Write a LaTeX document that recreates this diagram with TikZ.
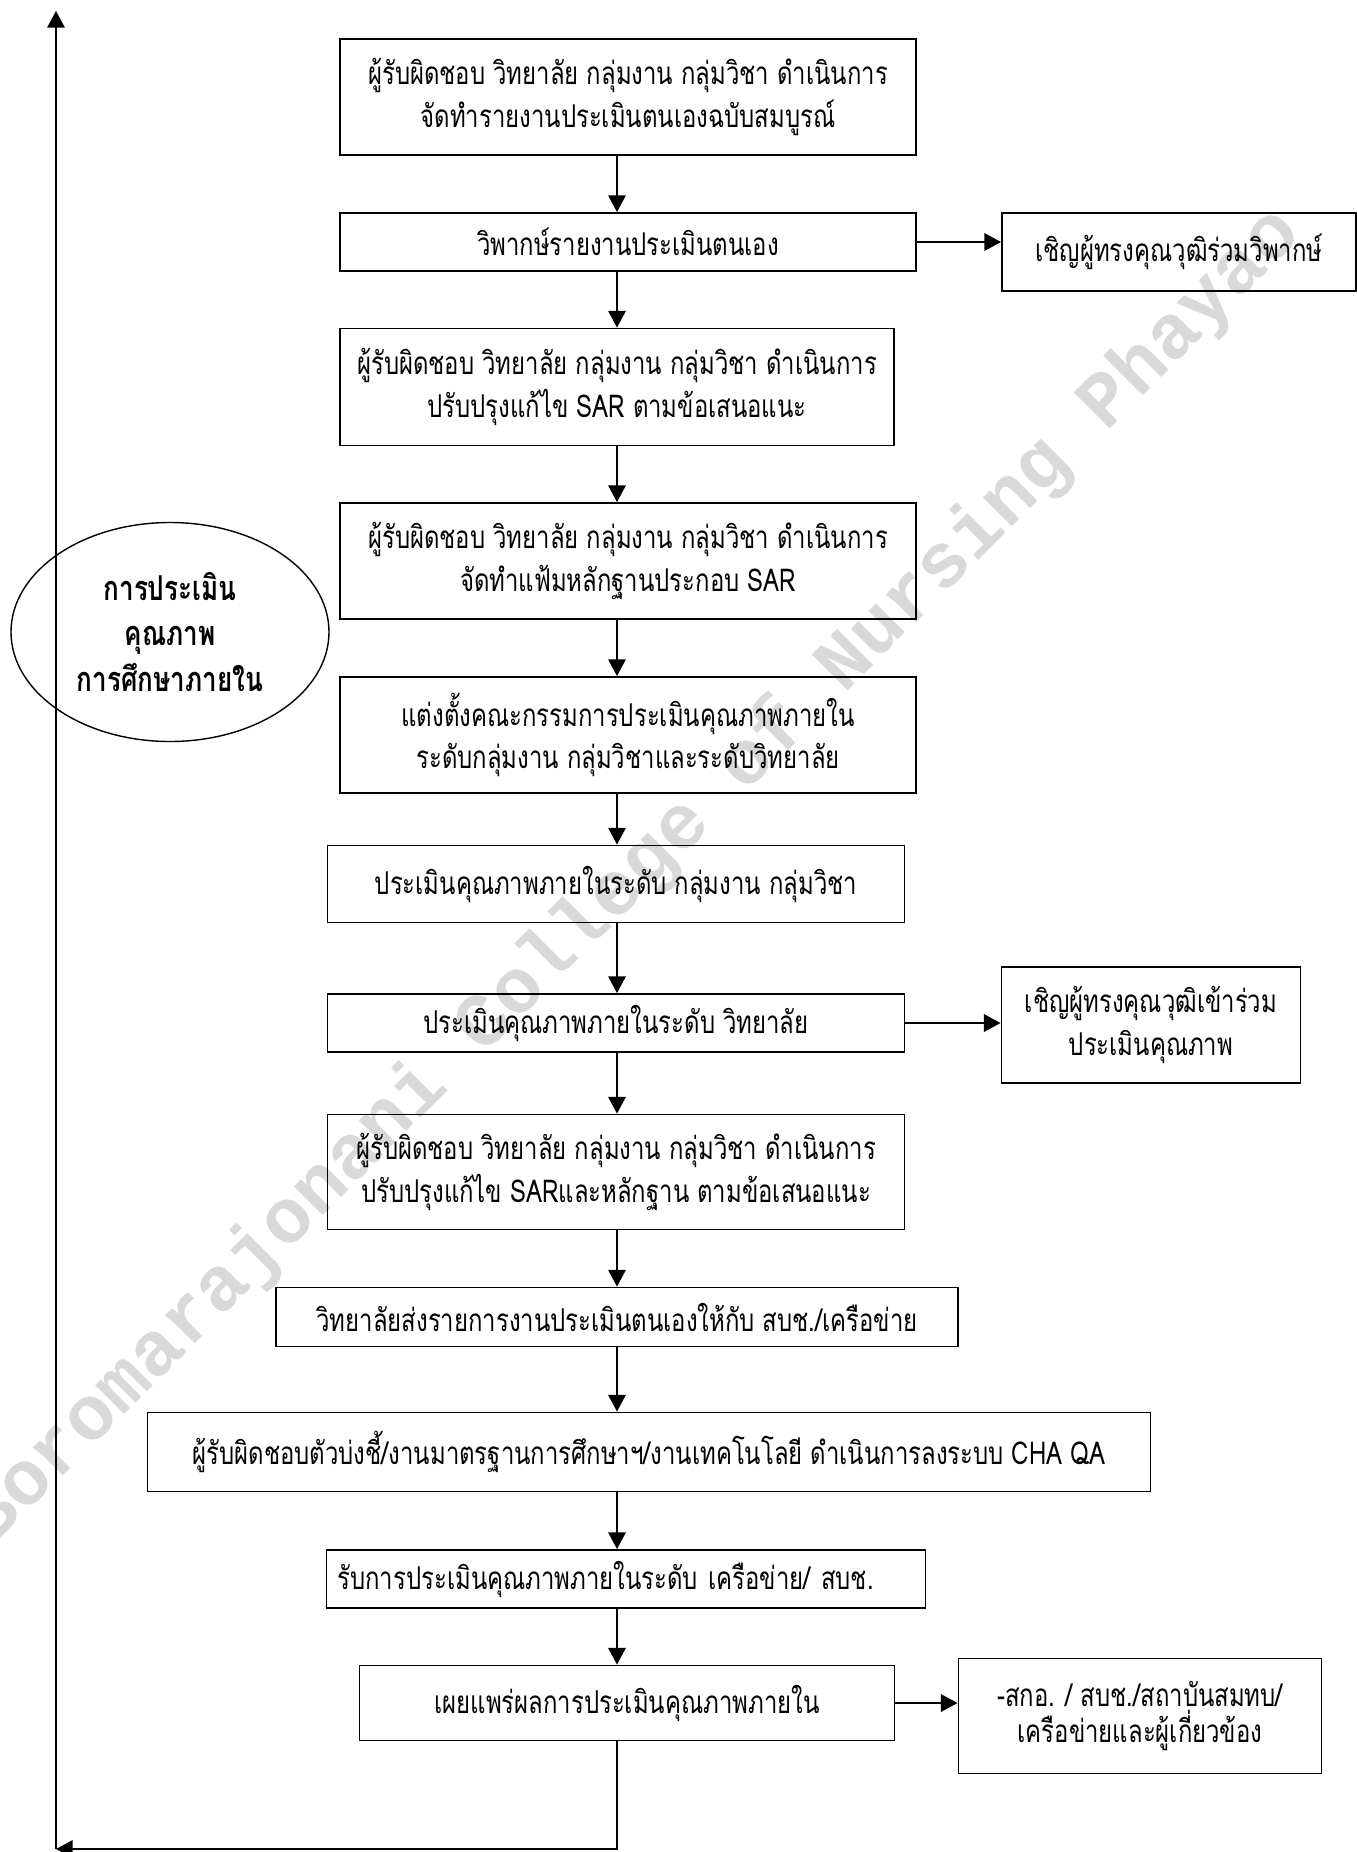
\documentclass[tikz,border=0pt]{standalone}
\usepackage{fontspec}
\newfontfamily\thaifont[Script=Thai, FakeStretch=0.76]{Loma}
\newfontfamily\markfont{Liberation Mono}
\usepackage{tikz}
\usetikzlibrary{arrows.meta, shapes.geometric}
\newlength\px
\setlength\px{0.2mm}
\tikzstyle{box}=[draw, line width=1.1pt, inner sep=0pt, align=center, font=\thaifont\fontsize{17.9}{24}\selectfont]
\tikzstyle{arr}=[->, line width=0.8pt]
\tikzset{>={Triangle[length=9.5pt, width=10pt]}}

\begin{document}
\begin{tikzpicture}[x=0.2mm, y=-0.2mm]
\useasboundingbox (0,0) rectangle (1357,1852);
\node[text=black!15, font=\markfont\bfseries\fontsize{44}{44}\selectfont, rotate=45] (wm) at (633,877) {Boromarajonani College of Nursing Phayao};

\node[box, minimum width=576\px, minimum height=116\px] (B1) at (628,97) {ผู้รับผิดชอบ วิทยาลัย กลุ่มงาน กลุ่มวิชา ดำเนินการ\\จัดทำรายงานประเมินตนเองฉบับสมบูรณ์};
\node[box, minimum width=576\px, minimum height=58\px] (B2) at (628,242) {วิพากษ์รายงานประเมินตนเอง};
\node[box, minimum width=354\px, minimum height=78\px] (S1) at (1179,252) {เชิญผู้ทรงคุณวุฒิร่วมวิพากษ์};
\node[box, minimum width=554\px, minimum height=117\px] (B3) at (617,387) {ผู้รับผิดชอบ วิทยาลัย กลุ่มงาน กลุ่มวิชา ดำเนินการ\\ปรับปรุงแก้ไข SAR ตามข้อเสนอแนะ};
\node[box, minimum width=576\px, minimum height=116\px] (B4) at (628,561) {ผู้รับผิดชอบ วิทยาลัย กลุ่มงาน กลุ่มวิชา ดำเนินการ\\จัดทำแฟ้มหลักฐานประกอบ SAR};
\node[draw, ellipse, line width=0.8pt, inner sep=0pt, minimum width=318\px, minimum height=219\px, align=center, font=\thaifont\bfseries\fontsize{19.5}{26}\selectfont] (E) at (170,632) {การประเมิน\\คุณภาพ\\การศึกษาภายใน};
\node[box, minimum width=576\px, minimum height=116\px] (B5) at (628,735) {แต่งตั้งคณะกรรมการประเมินคุณภาพภายใน\\ระดับกลุ่มงาน กลุ่มวิชาและระดับวิทยาลัย};
\node[box, minimum width=577\px, minimum height=77\px] (B6) at (616,884) {ประเมินคุณภาพภายในระดับ กลุ่มงาน กลุ่มวิชา};
\node[box, minimum width=577\px, minimum height=58\px] (B7) at (616,1023) {ประเมินคุณภาพภายในระดับ วิทยาลัย};
\node[box, minimum width=299\px, minimum height=116\px] (S2) at (1151,1025) {เชิญผู้ทรงคุณวุฒิเข้าร่วม\\ประเมินคุณภาพ};
\node[box, minimum width=577\px, minimum height=115\px] (B8) at (616,1172) {ผู้รับผิดชอบ วิทยาลัย กลุ่มงาน กลุ่มวิชา ดำเนินการ\\ปรับปรุงแก้ไข SARและหลักฐาน ตามข้อเสนอแนะ};
\node[box, minimum width=682\px, minimum height=59\px] (B9) at (617,1317) {วิทยาลัยส่งรายการงานประเมินตนเองให้กับ สบช./เครือข่าย};
\node[box, minimum width=1003\px, minimum height=79\px] (B10) at (649,1452) {ผู้รับผิดชอบตัวบ่งชี้/งานมาตรฐานการศึกษาฯ/งานเทคโนโลยี ดำเนินการลงระบบ CHA QA};
\node[box, align=left, inner xsep=11\px, text width=577\px, minimum height=58\px] (B11) at (626,1579) {รับการประเมินคุณภาพภายในระดับ เครือข่าย/ สบช.};
\node[box, minimum width=535\px, minimum height=75\px] (B12) at (627,1703) {เผยแพร่ผลการประเมินคุณภาพภายใน};
\node[box, minimum width=363\px, minimum height=115\px, font=\thaifont\fontsize{17.9}{21}\selectfont] (S3) at (1140,1716) {-สกอ. / สบช./สถาบันสมทบ/\\เครือข่ายและผู้เกี่ยวข้อง};

\coordinate (X) at (617,0);
\coordinate (C) at (56,1849);
\coordinate (T) at (56,11);
\foreach \a/\b in {B1/B2, B2/B3, B3/B4, B4/B5, B5/B6, B6/B7, B7/B8, B8/B9, B9/B10, B10/B11, B11/B12}
  \draw[arr] (\a.south -| X) -- (\b.north -| X);
\draw[arr, line width=1pt] (B2.east) -- (B2.east -| S1.west);
\draw[arr, line width=1pt] (B7.east) -- (B7.east -| S2.west);
\draw[arr, line width=1pt] (B12.east) -- (B12.east -| S3.west);
\draw[arr] (B12.south -| X) |- (C);
\draw[arr] (C) -- (T);
\end{tikzpicture}
\end{document}
